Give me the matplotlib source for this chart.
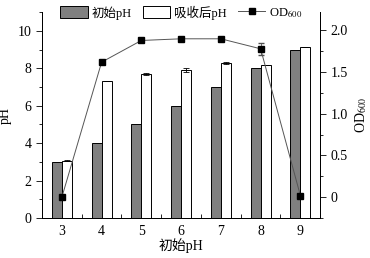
import matplotlib.pyplot as plt
import numpy as np
from matplotlib.ticker import MultipleLocator, FixedLocator

plt.rcParams['font.family'] = ['Liberation Serif', 'Noto Sans CJK SC']
plt.rcParams['mathtext.fontset'] = 'stix'
plt.rcParams['font.size'] = 10

ph_init = [3, 4, 5, 6, 7, 8, 9]
init_vals = [3.0, 4.0, 5.0, 6.0, 7.0, 8.0, 9.0]
after_vals = [3.06, 7.33, 7.7, 7.9, 8.27, 8.2, 9.13]
after_err = [0.03, 0.0, 0.06, 0.12, 0.04, 0.0, 0.0]
od_vals = [0.0, 1.62, 1.88, 1.9, 1.9, 1.78, 0.02]
od_err = [0.0, 0.0, 0.0, 0.0, 0.0, 0.07, 0.0]

x = np.array(ph_init)
width = 0.25

fig = plt.figure(figsize=(3.7, 2.58), dpi=100)
ax = fig.add_axes([0.1135, 0.155, 0.752, 0.798])

b1 = ax.bar(x - width/2, init_vals, width, color='#808080', edgecolor='black',
            linewidth=0.7, label='初始pH')
b2 = ax.bar(x + width/2, after_vals, width, color='white', edgecolor='black',
            linewidth=0.7, label='吸收后pH', yerr=after_err,
            error_kw=dict(ecolor='black', elinewidth=0.6, capsize=2, capthick=0.6))
ax.set_xlim(2.5, 9.5)
ax.set_ylim(0, 11)
ax.set_ylabel('pH', labelpad=4)
ax.set_xlabel('初始pH', labelpad=0)
ax.xaxis.set_major_locator(FixedLocator(ph_init))
ax.xaxis.set_minor_locator(FixedLocator(x[:-1] + 0.5))
ax.yaxis.set_major_locator(MultipleLocator(2))
ax.yaxis.set_minor_locator(MultipleLocator(1))
ax.tick_params(axis='x', which='major', length=0, pad=5)
ax.tick_params(axis='x', which='minor', direction='in', length=3, width=0.6)
ax.tick_params(axis='y', which='major', direction='out', length=4, width=0.6)
ax.tick_params(axis='y', which='minor', direction='out', length=2, width=0.6)

ax2 = ax.twinx()
ax2.errorbar(x, od_vals, yerr=od_err, fmt='none', ecolor='#505050',
             elinewidth=0.6, capsize=2)
l1, = ax2.plot(x, od_vals, color='#555555', linewidth=0.7, marker='s',
               markersize=4.5, markerfacecolor='black', markeredgecolor='black')
ax2.set_ylim(-0.25, 2.22)
ax2.set_ylabel('OD$_{600}$', labelpad=4)
ax2.yaxis.set_minor_locator(MultipleLocator(0.25))
ax2.set_yticks([0, 0.5, 1.0, 1.5, 2.0], ['0', '0.5', '1.0', '1.5', '2.0'])
ax2.tick_params(axis='y', which='major', direction='out', length=4, width=0.6)
ax2.tick_params(axis='y', which='minor', direction='out', length=2, width=0.6)

for a in (ax, ax2):
    a.spines['top'].set_visible(False)
    for s in a.spines.values():
        s.set_linewidth(0.7)

ax.legend([b1, b2, l1], ['初始pH', '吸收后pH', 'OD$_{600}$'], ncol=3, frameon=False,
          loc='upper center', bbox_to_anchor=(0.5, 1.075), handlelength=2.2,
          handleheight=1.1, columnspacing=0.9, handletextpad=0.3, fontsize=9,
          borderpad=0.2)

plt.savefig('out.png', dpi=100)
